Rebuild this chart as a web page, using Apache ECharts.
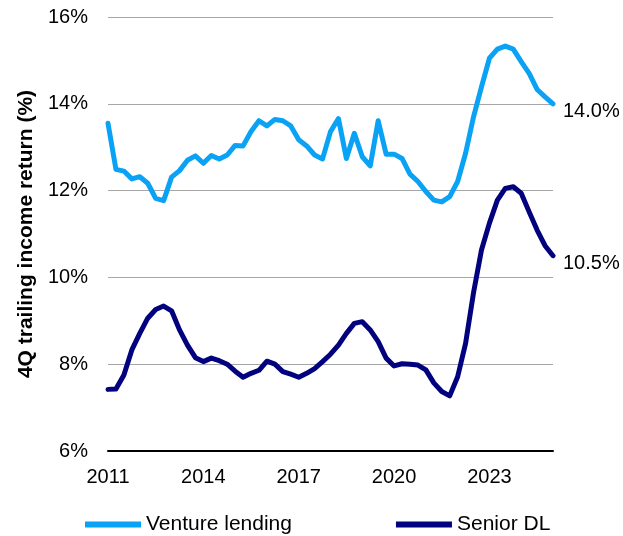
<!DOCTYPE html>
<html>
<head>
<meta charset="utf-8">
<script src="https://cdn.jsdelivr.net/npm/echarts@6/dist/echarts.min.js"></script>
<style>
  html, body { margin: 0; padding: 0; background: #fff; }
  #chart { width: 623px; height: 536px; }
</style>
</head>
<body>
<div id="chart"></div>
<script>
// Quarterly periods, 2011 Q1 through 2025 Q1
const quarters = [];
for (let y = 2011; y <= 2025; y++) {
  for (let q = 1; q <= 4; q++) {
    if (y === 2025 && q > 1) break;
    quarters.push(y + 'Q' + q);
  }
}

// Years printed along the time axis
const yearTicks = ['2011', '2014', '2017', '2020', '2023'];

// 4Q trailing income return (%)
const ventureLending = [
  13.55, 12.49, 12.45, 12.27, 12.32, 12.17, 11.82, 11.77, 12.31, 12.46,
  12.70, 12.80, 12.63, 12.81, 12.73, 12.82, 13.04, 13.03, 13.36, 13.61,
  13.49, 13.64, 13.61, 13.49, 13.17, 13.03, 12.82, 12.73, 13.36, 13.66,
  12.74, 13.32, 12.78, 12.57, 13.61, 12.84, 12.84, 12.74, 12.38, 12.21,
  11.98, 11.78, 11.74, 11.86, 12.21, 12.86, 13.70, 14.39, 15.05, 15.26,
  15.33, 15.26, 14.97, 14.70, 14.33, 14.16, 14.0
];

const seniorDL = [
  7.42, 7.43, 7.75, 8.33, 8.71, 9.06, 9.26, 9.34, 9.23, 8.79,
  8.44, 8.15, 8.06, 8.14, 8.08, 8.00, 7.84, 7.70, 7.79, 7.86,
  8.07, 8.00, 7.83, 7.77, 7.70, 7.79, 7.90, 8.06, 8.23, 8.44,
  8.71, 8.94, 8.98, 8.79, 8.52, 8.14, 7.96, 8.01, 8.00, 7.98,
  7.87, 7.57, 7.37, 7.27, 7.71, 8.48, 9.65, 10.63, 11.25, 11.78,
  12.05, 12.09, 11.94, 11.51, 11.09, 10.73, 10.5
];

const FONT = 'Arial, "Liberation Sans", sans-serif';
const LIGHT = '#0AA2F5';
const NAVY = '#02027E';

const chart = echarts.init(document.getElementById('chart'));

function endLabel() {
  return {
    show: true,
    formatter: p => p.value.toFixed(1) + '%',
    color: '#000',
    fontFamily: FONT,
    fontSize: 20,
    distance: 10,
    offset: [0, 8]
  };
}

chart.setOption({
  animation: false,
  backgroundColor: '#fff',
  grid: { left: 108, right: 70, top: 17, bottom: 85, containLabel: false },
  legend: {
    top: 509,
    left: 80,
    itemWidth: 56,
    itemHeight: 6,
    itemGap: 104,
    icon: 'rect',
    textStyle: { fontFamily: FONT, fontSize: 21, color: '#000' },
    data: ['Venture lending', 'Senior DL']
  },
  xAxis: {
    type: 'category',
    data: quarters,
    boundaryGap: false,
    axisLine: { show: true, lineStyle: { color: '#000', width: 2 } },
    axisTick: { show: false },
    axisLabel: {
      interval: 0,
      margin: 16,
      fontFamily: FONT,
      fontSize: 20,
      color: '#000',
      formatter: v => {
        const yr = v.slice(0, 4);
        return (v.endsWith('Q1') && yearTicks.includes(yr)) ? yr : '';
      }
    },
    splitLine: { show: false }
  },
  yAxis: {
    type: 'value',
    min: 6,
    max: 16,
    interval: 2,
    name: '4Q trailing income return (%)',
    nameLocation: 'middle',
    nameGap: 70,
    nameTextStyle: { fontFamily: FONT, fontSize: 21, fontWeight: 'bold', color: '#000' },
    axisLine: { show: false },
    axisTick: { show: false },
    axisLabel: {
      margin: 20,
      fontFamily: FONT,
      fontSize: 20,
      color: '#000',
      formatter: '{value}%'
    },
    splitLine: { show: true, lineStyle: { color: '#A6A6A6', width: 1 } }
  },
  series: [
    {
      name: 'Venture lending',
      type: 'line',
      data: ventureLending,
      symbol: 'none',
      smooth: false,
      lineStyle: { color: LIGHT, width: 5, join: 'round', cap: 'round' },
      itemStyle: { color: LIGHT },
      endLabel: endLabel()
    },
    {
      name: 'Senior DL',
      type: 'line',
      data: seniorDL,
      symbol: 'none',
      smooth: false,
      lineStyle: { color: NAVY, width: 5, join: 'round', cap: 'round' },
      itemStyle: { color: NAVY },
      endLabel: endLabel()
    }
  ]
});
</script>
</body>
</html>
